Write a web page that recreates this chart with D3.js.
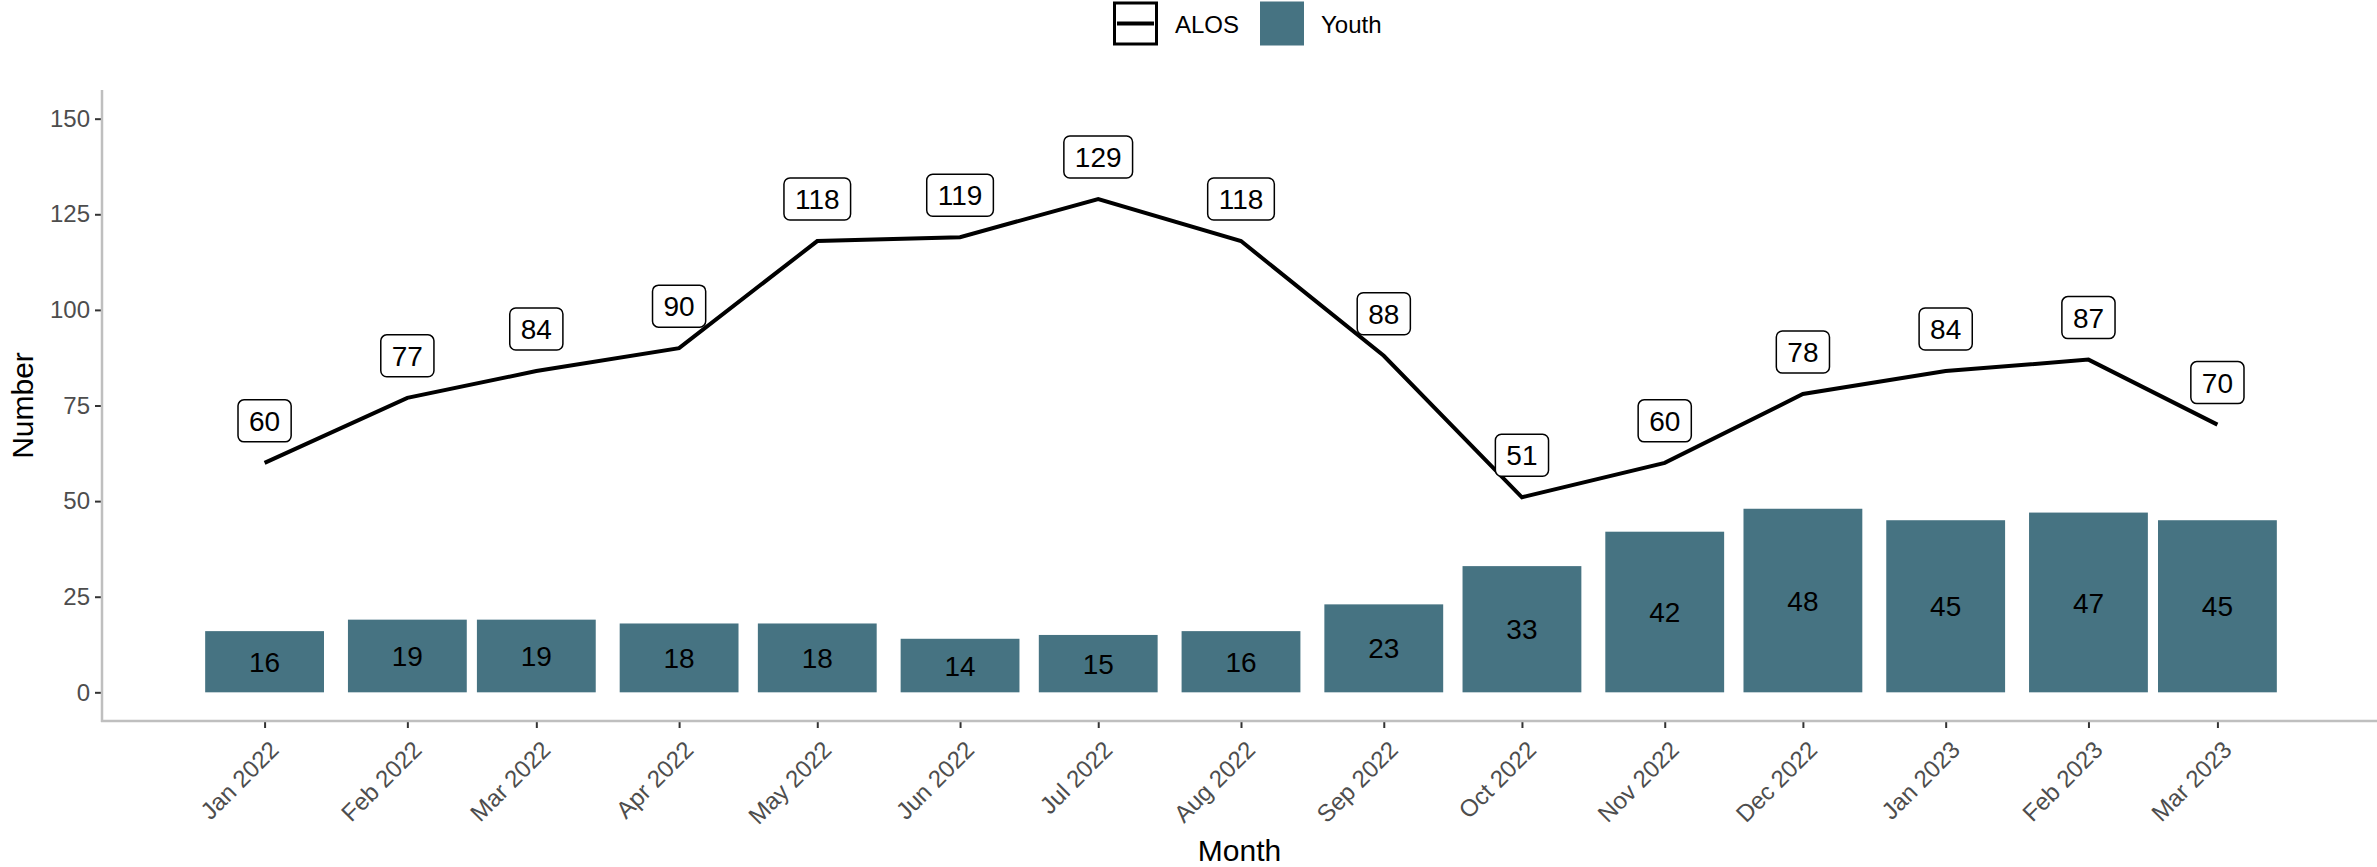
<!DOCTYPE html>
<html>
<head>
<meta charset="utf-8">
<script src="https://cdn.jsdelivr.net/npm/d3@7"></script>
<style>
  body{margin:0;background:#fff;}
  text{font-family:"Liberation Sans",Arial,sans-serif;}
</style>
</head>
<body>
<script>
// data
const months=["2022-01","2022-02","2022-03","2022-04","2022-05","2022-06","2022-07","2022-08","2022-09","2022-10","2022-11","2022-12","2023-01","2023-02","2023-03"]
const alos=[60,77,84,90,118,119,129,118,88,51,60,78,84,87,70]
const youth=[16,19,19,18,18,14,15,16,23,33,42,48,45,47,45]
const yTicks=[0,25,50,75,100,125,150]

const w=2377, h=867
const padL=102, padR=2377, padT=90, padB=721
const barColor="#467382"
const day=864e5

const parse=d3.timeParse("%Y-%m")
const dates=months.map(parse)

const svg=d3.select("body").append("svg")
  .attr("width",w).attr("height",h)

// scales
const pad=35.3*day
const xScale=d3.scaleTime()
  .domain([new Date(+dates[0]-pad),new Date(+dates[dates.length-1]+pad)])
  .range([padL,2380])
const yScale=d3.scaleLinear().domain([-7.5,157.5]).range([padB,padT])

const half=12.9*day

// bars
svg.selectAll("rect.bar")
  .data(dates)
  .enter().append("rect")
  .attr("class","bar")
  .attr("x",d=>xScale(new Date(+d-half)))
  .attr("width",d=>xScale(new Date(+d+half))-xScale(new Date(+d-half)))
  .attr("y",(d,i)=>yScale(youth[i]))
  .attr("height",(d,i)=>yScale(0)-yScale(youth[i]))
  .attr("fill",barColor)

svg.selectAll("text.barlab")
  .data(dates)
  .enter().append("text")
  .attr("x",d=>xScale(d))
  .attr("y",(d,i)=>yScale(youth[i]/2))
  .attr("dy","0.36em")
  .attr("text-anchor","middle")
  .attr("font-size",28)
  .attr("fill","#000")
  .text((d,i)=>youth[i])

// line
const line=d3.line()
  .x(d=>xScale(d))
  .y((d,i)=>yScale(alos[i]))
svg.append("path")
  .datum(dates)
  .attr("d",line)
  .attr("fill","none")
  .attr("stroke","#000")
  .attr("stroke-width",4)

// labels on line
const lab=svg.selectAll("g.lab")
  .data(dates)
  .enter().append("g")
  .attr("transform",(d,i)=>"translate("+xScale(d)+","+(yScale(alos[i])-42)+")")
lab.append("text")
  .attr("text-anchor","middle")
  .attr("dy","0.36em")
  .attr("font-size",28)
  .attr("fill","#000")
  .text((d,i)=>alos[i])
lab.each(function(){
  const g=d3.select(this)
  const bb=g.select("text").node().getBBox()
  g.insert("rect","text")
    .attr("x",-bb.width/2-11)
    .attr("y",-21)
    .attr("width",bb.width+22)
    .attr("height",42)
    .attr("rx",6)
    .attr("fill","#fff")
    .attr("stroke","#000")
    .attr("stroke-width",1.5)
})

// axes
const yAxis=d3.axisLeft(yScale).tickValues(yTicks).tickSize(7).tickPadding(5)
const gy=svg.append("g")
  .attr("transform","translate("+padL+",0)")
  .call(yAxis)
gy.select(".domain").remove()
gy.selectAll(".tick line").attr("stroke","#333").attr("stroke-width",2)
gy.selectAll(".tick text").attr("font-size",24).attr("fill","#4d4d4d")
  .attr("font-family","Liberation Sans, Arial, sans-serif")

const xAxis=d3.axisBottom(xScale).tickValues(dates).tickSize(7)
  .tickFormat(d3.timeFormat("%b %Y"))
const gx=svg.append("g")
  .attr("transform","translate(0,"+padB+")")
  .call(xAxis)
gx.select(".domain").remove()
gx.selectAll(".tick line").attr("stroke","#333").attr("stroke-width",2)
gx.selectAll(".tick text")
  .attr("font-size",24).attr("fill","#4d4d4d")
  .attr("font-family","Liberation Sans, Arial, sans-serif")
  .attr("text-anchor","end")
  .attr("y",0).attr("dy","0.72em")
  .attr("transform","translate(3,18) rotate(-45)")

// axis lines
svg.append("line").attr("x1",padL).attr("x2",padL).attr("y1",padT).attr("y2",padB+1)
  .attr("stroke","#bfbfbf").attr("stroke-width",2.5)
svg.append("line").attr("x1",padL-1).attr("x2",padR).attr("y1",padB).attr("y2",padB)
  .attr("stroke","#bfbfbf").attr("stroke-width",2.5)

// titles
svg.append("text")
  .attr("x",(padL+padR)/2).attr("y",861)
  .attr("text-anchor","middle").attr("font-size",30).attr("fill","#000")
  .text("Month")
svg.append("text")
  .attr("transform","translate(33,"+((padT+padB)/2)+") rotate(-90)")
  .attr("text-anchor","middle").attr("font-size",30).attr("fill","#000")
  .text("Number")

// legend
const leg=svg.append("g")
leg.append("rect").attr("x",1114.5).attr("y",3).attr("width",42).attr("height",41)
  .attr("fill","#fff").attr("stroke","#000").attr("stroke-width",3)
leg.append("line").attr("x1",1117).attr("x2",1154).attr("y1",23.5).attr("y2",23.5)
  .attr("stroke","#000").attr("stroke-width",4)
leg.append("text").attr("x",1175).attr("y",24).attr("dy","0.36em")
  .attr("font-size",24).attr("fill","#000").text("ALOS")
leg.append("rect").attr("x",1260).attr("y",1.5).attr("width",44).attr("height",44)
  .attr("fill",barColor)
leg.append("text").attr("x",1321).attr("y",24).attr("dy","0.36em")
  .attr("font-size",24).attr("fill","#000").text("Youth")
</script>
</body>
</html>
